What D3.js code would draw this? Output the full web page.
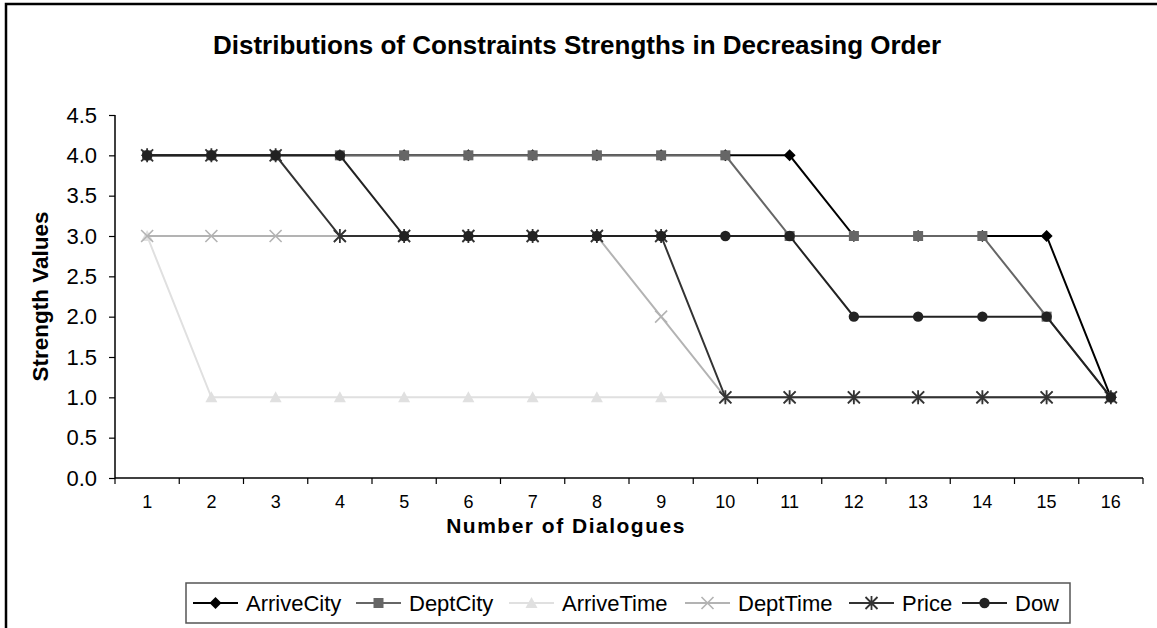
<!DOCTYPE html>
<html><head><meta charset="utf-8">
<script src="https://cdn.jsdelivr.net/npm/d3@7"></script>
<style>body{margin:0;background:#fff}svg{display:block}text{font-family:Arial,"Liberation Sans",sans-serif}</style>
</head><body>
<svg id="c" width="1157" height="628"></svg>
<script>
const categories = ["1","2","3","4","5","6","7","8","9","10","11","12","13","14","15","16"];
const yTicks = [0,0.5,1,1.5,2,2.5,3,3.5,4,4.5];
const seriesNames = ["ArriveCity","DeptCity","ArriveTime","DeptTime","Price","Dow"];
const arriveCity = [4,4,4,4,4,4,4,4,4,4,4,3,3,3,3,1];
const deptCity   = [4,4,4,4,4,4,4,4,4,4,3,3,3,3,2,1];
const arriveTime = [3,1,1,1,1,1,1,1,1,1,1,1,1,1,1,1];
const deptTime   = [3,3,3,3,3,3,3,3,2,1,1,1,1,1,1,1];
const price      = [4,4,4,3,3,3,3,3,3,1,1,1,1,1,1,1];
const dow        = [4,4,4,4,3,3,3,3,3,3,3,2,2,2,2,1];
const seriesValues = [arriveCity,deptCity,arriveTime,deptTime,price,dow];

const styles = [
  {color:"#000000", marker:"diamond"},
  {color:"#666666", marker:"square"},
  {color:"#e0e0e0", marker:"triangle"},
  {color:"#b3b3b3", marker:"x"},
  {color:"#333333", marker:"asterisk"},
  {color:"#222222", marker:"circle"}
];

const svg = d3.select("#c");
svg.append("rect").attr("x",6).attr("y",4).attr("width",1200).attr("height",700)
  .attr("fill","#fff").attr("stroke","#000").attr("stroke-width",2.5);

const L=115,R=1143,T=115,B=478;
const x = d3.scaleBand().domain(categories).range([L,R]);
const y = d3.scaleLinear().domain([0,4.5]).range([B,T]);

svg.append("text").attr("x",577).attr("y",54).attr("text-anchor","middle")
  .attr("font-weight","bold").attr("font-size",26).text("Distributions of Constraints Strengths in Decreasing Order");

// y axis
const ya = svg.append("g").attr("transform",`translate(${L},0)`)
  .call(d3.axisLeft(y).tickValues(yTicks).tickFormat(d3.format(".1f")).tickSize(6).tickPadding(12));
ya.select(".domain").attr("stroke","#000").attr("stroke-width",1.5).attr("d",`M0,${T}V${B}`);
ya.selectAll(".tick line").attr("stroke","#000").attr("stroke-width",1.2);
ya.selectAll("text").attr("font-size",22).attr("fill","#000").attr("font-family","Arial,'Liberation Sans',sans-serif");

// x axis
const xa = svg.append("g").attr("transform",`translate(0,${B})`)
  .call(d3.axisBottom(x).tickSize(0).tickPadding(17));
xa.select(".domain").attr("stroke","#000").attr("stroke-width",1.5).attr("d",`M${L},0H${R}`);
xa.selectAll("text").attr("font-size",18).attr("fill","#000").attr("font-family","Arial,'Liberation Sans',sans-serif");
const bounds = categories.map(c=>x(c)).concat([R]);
xa.selectAll(".bt").data(bounds).enter().append("line").attr("class","bt")
  .attr("x1",d=>d).attr("x2",d=>d).attr("y1",0).attr("y2",6).attr("stroke","#000").attr("stroke-width",1.2);

svg.append("text").attr("x",566).attr("y",533).attr("text-anchor","middle")
  .attr("font-weight","bold").attr("font-size",21).attr("letter-spacing",1.5).text("Number of Dialogues");
svg.append("text").attr("transform",`translate(48,${(T+B)/2}) rotate(-90)`).attr("text-anchor","middle")
  .attr("font-weight","bold").attr("font-size",22.5).text("Strength Values");

function drawMarker(g, type, color, cx, cy){
  if(type==="diamond"){
    g.append("path").attr("d",`M${cx},${cy-6}L${cx+6},${cy}L${cx},${cy+6}L${cx-6},${cy}Z`).attr("fill",color);
  } else if(type==="square"){
    g.append("rect").attr("x",cx-5).attr("y",cy-5).attr("width",10).attr("height",10).attr("fill",color);
  } else if(type==="triangle"){
    g.append("path").attr("d",`M${cx},${cy-6}L${cx+6},${cy+5}L${cx-6},${cy+5}Z`).attr("fill",color);
  } else if(type==="x"){
    g.append("path").attr("d",`M${cx-6},${cy-6}L${cx+6},${cy+6}M${cx+6},${cy-6}L${cx-6},${cy+6}`).attr("stroke",color).attr("stroke-width",1.6);
  } else if(type==="asterisk"){
    g.append("path").attr("d",`M${cx-6},${cy-6}L${cx+6},${cy+6}M${cx+6},${cy-6}L${cx-6},${cy+6}M${cx},${cy-7}L${cx},${cy+7}`).attr("stroke",color).attr("stroke-width",1.8);
  } else if(type==="circle"){
    g.append("circle").attr("cx",cx).attr("cy",cy).attr("r",5.2).attr("fill",color);
  }
}

const line = d3.line().x((d,i)=>x(categories[i])+x.bandwidth()/2).y(d=>y(d));
seriesValues.forEach((vals,si)=>{
  const g = svg.append("g");
  g.append("path").attr("d",line(vals)).attr("fill","none").attr("stroke",styles[si].color).attr("stroke-width",2);
  vals.forEach((v,i)=>drawMarker(g, styles[si].marker, styles[si].color, x(categories[i])+x.bandwidth()/2, y(v)));
});

// legend
const lg = svg.append("g");
lg.append("rect").attr("x",186).attr("y",583).attr("width",884).attr("height",40)
  .attr("fill","#fff").attr("stroke","#555").attr("stroke-width",1.5);
const legX = [193,356,509,685,849,962];
seriesNames.forEach((n,i)=>{
  const x0 = legX[i], cy = 603;
  lg.append("line").attr("x1",x0).attr("x2",x0+45).attr("y1",cy).attr("y2",cy).attr("stroke",styles[i].color).attr("stroke-width",2);
  drawMarker(lg, styles[i].marker, styles[i].color, x0+22.5, cy);
  lg.append("text").attr("x",x0+53).attr("y",cy+8).attr("font-size",22).attr("fill","#000").text(n);
});
</script>
</body></html>
